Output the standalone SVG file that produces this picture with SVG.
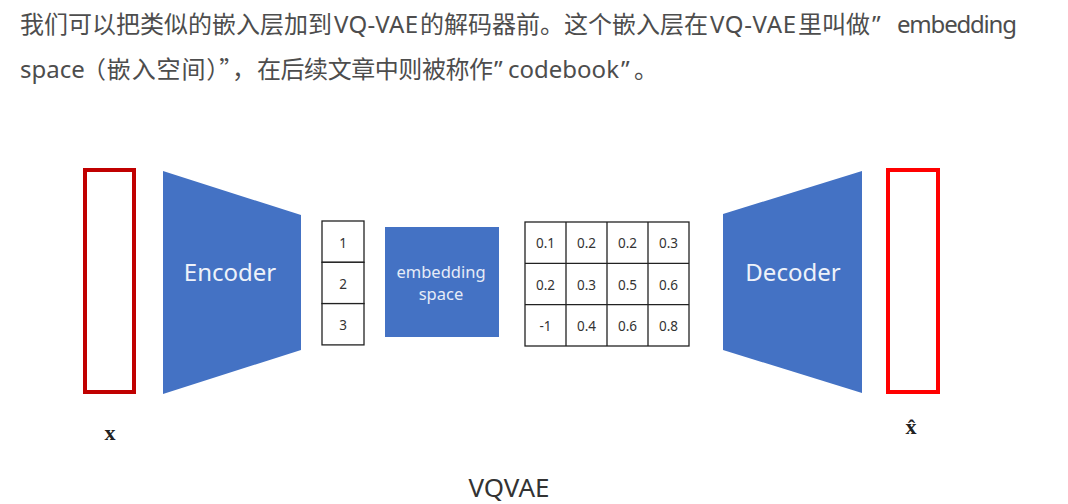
<svg xmlns="http://www.w3.org/2000/svg" width="1068" height="504" viewBox="0 0 1068 504">
<style>
.hdr{font-family:"Noto Sans","Noto Sans CJK SC",sans-serif;font-size:24px;fill:#4d4d4d}
.cjk{font-family:"Noto Sans CJK SC",sans-serif}
.blue{fill:#4472C4}
.big{font-family:"Noto Sans","Noto Sans CJK SC",sans-serif;font-size:24px;fill:#eef2fa;text-anchor:middle}
.emb{font-family:"Noto Sans",sans-serif;font-size:16.5px;fill:#e6ecf7;text-anchor:middle}
.cell{fill:#fff;stroke:#222;stroke-width:1.3}
.num{font-family:"Noto Sans",sans-serif;font-size:13.5px;fill:#333;text-anchor:middle}
.lbl{font-family:"Liberation Serif",serif;font-weight:bold;font-size:22px;fill:#222;text-anchor:middle}
.cap{font-family:"Noto Sans",sans-serif;font-size:26px;fill:#333;text-anchor:middle}
</style>
<rect width="1068" height="504" fill="#fff"/>
<g id="header">
<text class="hdr" y="33"><tspan class="cjk" x="20">我们可以把类似的嵌入层加到</tspan><tspan x="334" textLength="84" lengthAdjust="spacing">VQ-VAE</tspan><tspan class="cjk" x="420">的解码器前。这个嵌入层在</tspan><tspan x="710" textLength="86" lengthAdjust="spacing">VQ-VAE</tspan><tspan class="cjk" x="798">里叫做</tspan><tspan x="872">”</tspan><tspan x="897" textLength="120" lengthAdjust="spacing">embedding</tspan></text>
<text class="hdr" y="78"><tspan x="20">space</tspan><tspan class="cjk" x="82" textLength="174" lengthAdjust="spacing">（嵌入空间）”，</tspan><tspan class="cjk" x="257" textLength="236" lengthAdjust="spacing">在后续文章中则被称作</tspan><tspan x="494">”</tspan><tspan x="508">codebook</tspan><tspan x="621">”</tspan><tspan class="cjk" x="634">。</tspan></text>
</g>
<g id="input-x">
<rect x="85" y="170" width="49" height="222" fill="none" stroke="#C00000" stroke-width="4"/>
<text class="lbl" x="110" y="440">x</text>
</g>
<g id="encoder">
<polygon class="blue" points="163,171 301,215 301,350 163,394"/>
<text class="big" x="230" y="281">Encoder</text>
</g>
<g id="latent-vector">
<rect class="cell" x="322" y="221" width="42" height="41.3"/>
<rect class="cell" x="322" y="262.3" width="42" height="41.3"/>
<rect class="cell" x="322" y="303.6" width="42" height="41.3"/>
<text class="num" x="343" y="248">1</text>
<text class="num" x="343" y="289">2</text>
<text class="num" x="343" y="330">3</text>
</g>
<g id="embedding-space">
<rect class="blue" x="385" y="227" width="114" height="110"/>
<text class="emb" x="441" y="278">embedding</text>
<text class="emb" x="441" y="300">space</text>
</g>
<g id="codebook">
<rect class="cell" x="525" y="222" width="164" height="124"/>
<path d="M566 222V346M607 222V346M648 222V346M525 263.3H689M525 304.7H689" stroke="#222" stroke-width="1.3" fill="none"/>
<g class="num">
<text x="545.5" y="248">0.1</text><text x="586.5" y="248">0.2</text><text x="627.5" y="248">0.2</text><text x="668.5" y="248">0.3</text>
<text x="545.5" y="289.5">0.2</text><text x="586.5" y="289.5">0.3</text><text x="627.5" y="289.5">0.5</text><text x="668.5" y="289.5">0.6</text>
<text x="545.5" y="330.5">-1</text><text x="586.5" y="330.5">0.4</text><text x="627.5" y="330.5">0.6</text><text x="668.5" y="330.5">0.8</text>
</g>
</g>
<g id="decoder">
<polygon class="blue" points="723,214 862,171 862,393 723,350"/>
<text class="big" x="793" y="281">Decoder</text>
</g>
<g id="output-xhat">
<rect x="888" y="170" width="50" height="222" fill="none" stroke="#FF0000" stroke-width="4"/>
<text class="lbl" x="911" y="434">x&#x302;</text>
</g>
<g id="connectors"/>
<g id="caption">
<text class="cap" x="509" y="497">VQVAE</text>
</g>
</svg>
